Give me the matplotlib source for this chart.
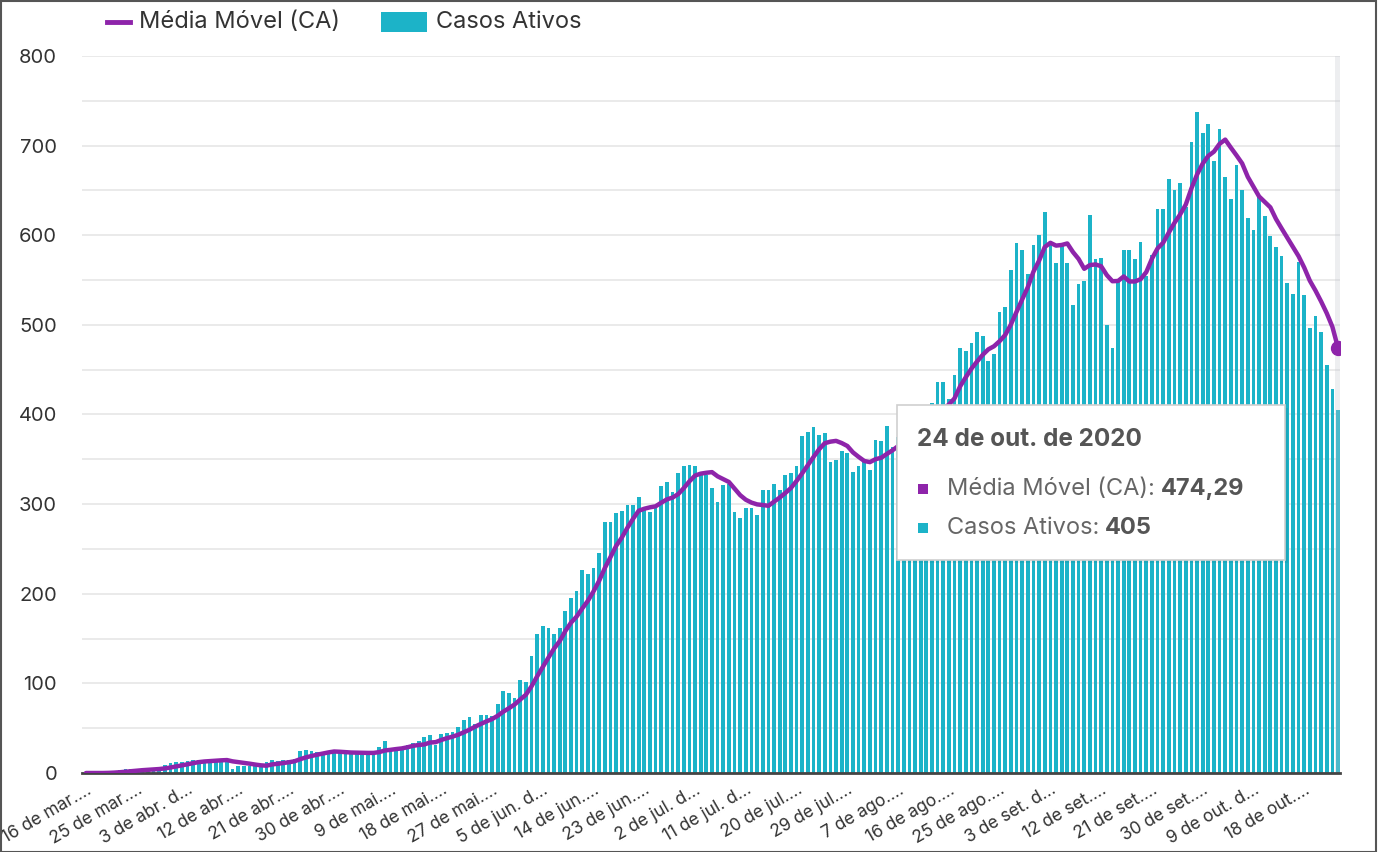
import matplotlib
matplotlib.use("Agg")
import matplotlib.pyplot as plt
from matplotlib.patches import Rectangle
from matplotlib.lines import Line2D

# ---------------- data ----------------
# daily values from 16 Mar 2020 (day 0) to 24 Oct 2020 (day 222)
casos_ativos = [
    0, 0, 0, 0, 1, 2, 3, 4, 4, 4, 4, 4, 5, 6, 9, 11, 12, 12, 13, 14,
    14, 14, 14, 15, 15, 15, 4, 8, 8, 8, 8, 9, 12, 14, 13, 14, 14, 16, 25, 26,
    25, 23, 23, 23, 23, 23, 23, 22, 22, 22, 22, 23, 29, 36, 27, 28, 27, 31, 34, 36,
    40, 42, 31, 44, 45, 46, 51, 59, 62, 55, 65, 65, 64, 77, 91, 89, 84, 104, 102, 130,
    155, 164, 162, 155, 162, 181, 195, 203, 227, 222, 229, 245, 280, 280, 290, 292, 299, 299, 308, 296,
    291, 298, 320, 325, 313, 335, 343, 344, 343, 335, 332, 318, 302, 321, 322, 291, 284, 296, 296, 288,
    316, 316, 323, 316, 332, 335, 343, 376, 380, 386, 377, 379, 347, 349, 359, 357, 336, 342, 347, 338,
    372, 370, 387, 364, 375, 390, 385, 395, 380, 400, 413, 436, 436, 417, 444, 474, 471, 480, 492, 488,
    460, 468, 514, 520, 561, 591, 584, 557, 589, 600, 626, 594, 569, 589, 569, 522, 546, 549, 623, 574,
    575, 500, 474, 548, 584, 584, 574, 593, 555, 578, 629, 629, 663, 650, 658, 632, 704, 738, 714, 724,
    683, 719, 665, 641, 678, 651, 619, 606, 643, 622, 599, 587, 577, 547, 535, 570, 533, 496, 510, 492,
    455, 429, 405,
]

media_movel = [
    0.0, 0.0, 0.0, 0.0, 0.14, 0.43, 0.86, 1.43, 2.0, 2.57, 3.14, 3.57, 4.0, 4.43, 5.14, 6.14, 7.29, 8.43, 9.71, 11.0,
    12.14, 12.86, 13.29, 13.71, 14.14, 14.43, 13.0, 12.14, 11.29, 10.43, 9.43, 8.57, 8.14, 9.57, 10.29, 11.14, 12.0, 13.14, 15.43, 17.43,
    19.0, 20.43, 21.71, 23.0, 24.0, 23.71, 23.29, 22.86, 22.71, 22.57, 22.43, 22.43, 23.29, 25.14, 25.86, 26.71, 27.43, 28.71, 30.29, 31.29,
    31.86, 34.0, 34.43, 36.86, 38.86, 40.57, 42.71, 45.43, 48.29, 51.71, 54.71, 57.57, 60.14, 63.86, 68.43, 72.29, 76.43, 82.0, 87.29, 96.71,
    107.86, 118.29, 128.71, 138.86, 147.14, 158.43, 167.71, 174.57, 183.57, 192.14, 202.71, 214.57, 228.71, 240.86, 253.29, 262.57, 273.57, 283.57, 292.57, 294.86,
    296.43, 297.57, 301.57, 305.29, 307.29, 311.14, 317.86, 325.43, 331.86, 334.0, 335.0, 335.71, 331.0, 327.86, 324.71, 317.29, 310.0, 304.86, 301.71, 299.71,
    299.0, 298.14, 302.71, 307.29, 312.43, 318.0, 325.86, 334.43, 343.57, 352.57, 361.29, 368.0, 369.71, 370.57, 368.14, 364.86, 357.71, 352.71, 348.14, 346.86,
    350.14, 351.71, 356.0, 360.0, 364.71, 370.86, 377.57, 380.86, 382.29, 384.14, 391.14, 399.86, 406.43, 411.0, 418.0, 431.43, 441.57, 451.14, 459.14, 466.57,
    472.71, 476.14, 481.86, 488.86, 500.43, 514.57, 528.29, 542.14, 559.43, 571.71, 586.86, 591.57, 588.43, 589.14, 590.86, 581.29, 573.57, 562.57, 566.71, 567.43,
    565.43, 555.57, 548.71, 549.0, 554.0, 548.43, 548.43, 551.0, 558.86, 573.71, 585.29, 591.71, 603.0, 613.86, 623.14, 634.14, 652.14, 667.71, 679.86, 688.57,
    693.29, 702.0, 706.71, 697.71, 689.14, 680.14, 665.14, 654.14, 643.29, 637.14, 631.14, 618.14, 607.57, 597.29, 587.14, 576.71, 564.0, 549.29, 538.29, 526.14,
    513.0, 497.86, 474.29,
]

tick_days = [0, 9, 18, 27, 36, 45, 54, 63, 72, 81, 90, 99, 108, 117, 126, 135,
             144, 153, 162, 171, 180, 189, 198, 207, 216]
tick_labels = ["16 de mar.…", "25 de mar.…", "3 de abr. d…", "12 de abr.…", "21 de abr.…",
               "30 de abr.…", "9 de mai.…", "18 de mai.…", "27 de mai.…", "5 de jun. d…",
               "14 de jun.…", "23 de jun.…", "2 de jul. d…", "11 de jul. d…", "20 de jul.…",
               "29 de jul.…", "7 de ago.…", "16 de ago.…", "25 de ago.…", "3 de set. d…",
               "12 de set.…", "21 de set.…", "30 de set.…", "9 de out. d…", "18 de out.…"]
y_ticks = [0, 100, 200, 300, 400, 500, 600, 700, 800]

serie_ma = "Média Móvel (CA)"
serie_ca = "Casos Ativos"
tooltip_date = "24 de out. de 2020"
tooltip_ma = "474,29"
tooltip_ca = "405"

# ---------------- style ----------------
FONT = ["Inter", "DejaVu Sans"]
plt.rcParams["font.family"] = FONT
TEAL = "#1cb3c8"
PURPLE = "#8e24aa"
TXT = "#333333"

W, H = 1384, 852
fig = plt.figure(figsize=(W / 100, H / 100), dpi=100)
fig.patch.set_facecolor("white")

px = lambda x: x / W
py = lambda y: (H - y) / H

ax = fig.add_axes([px(82), py(773), px(1340) - px(82), py(56) - py(773)])
days = list(range(len(casos_ativos)))

ax.set_xlim(-0.7, len(days) - 1 + 0.35)
ax.set_ylim(0, 800)

# grid
ax.set_yticks(list(range(0, 801, 50)))
ax.set_yticklabels([str(v) if v in y_ticks else "" for v in range(0, 801, 50)])
ax.grid(axis="y", color="#e6e6e6", linewidth=1.2, zorder=0)
ax.set_axisbelow(True)
for s in ["top", "right", "left"]:
    ax.spines[s].set_visible(False)
ax.spines["bottom"].set_color("#444444")
ax.spines["bottom"].set_linewidth(2)
ax.tick_params(axis="y", length=0, pad=18, labelsize=14.5, labelcolor=TXT)

ax.bar(days, casos_ativos, width=0.66, color=TEAL, zorder=2, linewidth=0)

# hover band on the last category
ax.axvspan(len(days) - 1.5, len(days) - 0.5, color="#c4c8d0", alpha=0.3, zorder=2.5, lw=0)

ax.plot(days, media_movel, color=PURPLE, lw=3.2, solid_capstyle="round",
        solid_joinstyle="round", zorder=3)
ax.plot([days[-1]], [media_movel[-1]], "o", ms=10, color=PURPLE, zorder=4)

ax.set_xticks(tick_days)
ax.set_xticklabels(tick_labels, rotation=30, ha="right", va="top",
                   rotation_mode="anchor", fontsize=12.5, color=TXT)
ax.tick_params(axis="x", length=0, pad=6)

# ---------------- legend ----------------
fig.add_artist(Line2D([px(107), px(130)], [py(22), py(22)], color=PURPLE, lw=3.5,
                      transform=fig.transFigure))
fig.text(px(139), py(22), serie_ma, fontsize=17, color=TXT, va="center", ha="left")
fig.add_artist(Rectangle((px(381), py(32)), px(427) - px(381), py(12) - py(32),
                         transform=fig.transFigure, color=TEAL, lw=0))
fig.text(px(436), py(22), serie_ca, fontsize=17, color=TXT, va="center", ha="left")

# ---------------- tooltip ----------------
bx0, by0, bx1, by1 = 897, 405, 1285, 560
fig.add_artist(Rectangle((px(bx0 + 3), py(by1 + 3)), px(bx1) - px(bx0), py(by0) - py(by1),
                         transform=fig.transFigure, facecolor="#000000", alpha=0.06, lw=0))
fig.add_artist(Rectangle((px(bx0), py(by1)), px(bx1) - px(bx0), py(by0) - py(by1),
                         transform=fig.transFigure, facecolor="white",
                         edgecolor="#cfcfcf", lw=1.2))
fig.text(px(917), py(439), tooltip_date, fontsize=17.5, fontweight="bold",
         color="#555555", va="center", ha="left")

renderer = fig.canvas.get_renderer()
for yy, col, label, val in [(489, PURPLE, serie_ma + ":", tooltip_ma),
                            (528, TEAL, serie_ca + ":", tooltip_ca)]:
    fig.add_artist(Rectangle((px(918), py(yy + 5)), px(10), 10 / H,
                             transform=fig.transFigure, color=col, lw=0))
    t = fig.text(px(947), py(yy), label, fontsize=17, color="#666666",
                 va="center", ha="left")
    bb = t.get_window_extent(renderer=renderer)
    fig.text(bb.x1 / W + px(6), py(yy), val, fontsize=17, fontweight="bold",
             color="#555555", va="center", ha="left")

# outer frame
fig.add_artist(Rectangle((px(0.5), py(851.5)), px(1376) - px(0.5), py(0.5) - py(851.5),
                         transform=fig.transFigure, fill=False, edgecolor="#555555", lw=1.5))

fig.savefig("out.png", dpi=100, facecolor="white")
